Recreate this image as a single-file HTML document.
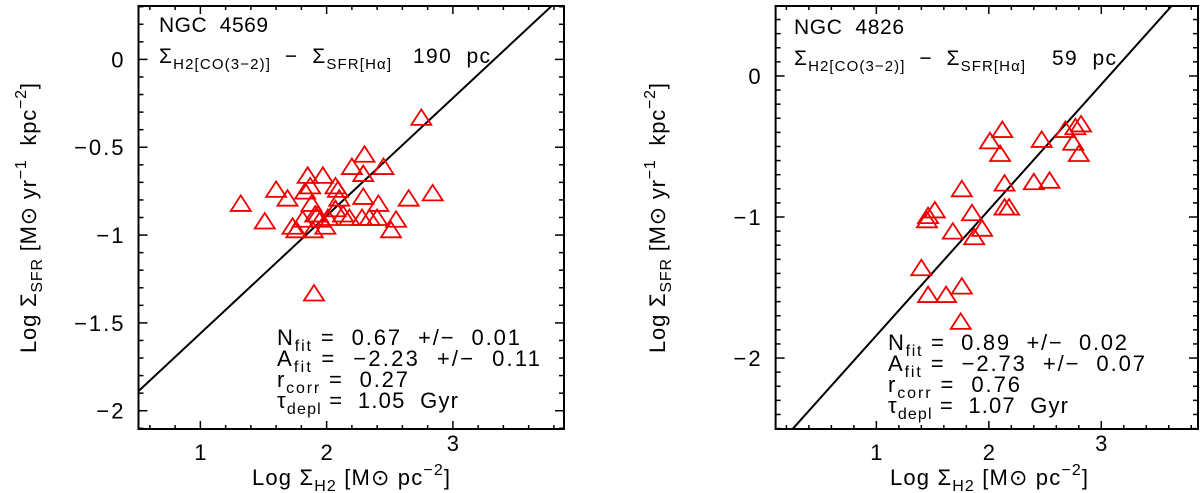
<!DOCTYPE html>
<html><head><meta charset="utf-8"><style>
body{margin:0;background:#fff;}
svg{display:block;font-family:"Liberation Sans",sans-serif;}
</style></head><body>
<svg id="c" width="1200" height="493" viewBox="0 0 1200 493"></svg>
<script>
const leftX=[1.32,1.51,1.60,1.69,1.76,1.85,1.87,1.83,1.88,1.81,1.89,1.97,1.91,1.93,1.99,2.07,2.09,2.10,2.07,2.13,2.18,2.20,2.30,2.29,2.29,2.28,2.34,2.41,2.40,2.45,2.51,2.55,2.65,2.84,2.75,1.90,2.01,1.73,1.95];
const leftY=[-0.82,-0.92,-0.74,-0.79,-0.97,-0.66,-0.72,-0.75,-0.82,-0.91,-0.97,-0.66,-0.88,-0.88,-0.95,-0.72,-0.74,-0.79,-0.85,-0.88,-0.90,-0.61,-0.54,-0.65,-0.78,-0.90,-0.90,-0.82,-0.90,-0.61,-0.97,-0.91,-0.79,-0.76,-0.33,-1.33,-0.90,-0.95,-0.91];
const rightX=[1.45,1.46,1.52,1.68,1.76,1.85,1.87,1.94,1.40,1.46,1.62,1.76,1.75,2.01,2.12,2.10,2.14,2.14,2.18,2.40,2.54,2.47,2.68,2.77,2.82,2.75,2.80];
const rightY=[-1.02,-0.99,-0.95,-1.10,-0.80,-0.97,-1.14,-1.08,-1.36,-1.55,-1.55,-1.49,-1.74,-0.46,-0.38,-0.55,-0.76,-0.93,-0.93,-0.75,-0.74,-0.45,-0.38,-0.36,-0.34,-0.47,-0.55];
const leftFit=[0.67,-2.23];
const rightFit=[0.89,-2.73];
const leftYTicks=[0,-0.5,-1,-1.5,-2];
const leftYLabels=["0","\u22120.5","\u22121","\u22121.5","\u22122"];
const rightYTicks=[0,-1,-2];
const rightYLabels=["0","\u22121","\u22122"];
const xTicks=[1,2,3];
const xLabels=["1","2","3"];

const svg=document.getElementById('c');
const NS='http://www.w3.org/2000/svg';
function mk(tag,attrs,parent){const e=document.createElementNS(NS,tag);for(const k in attrs)e.setAttribute(k,attrs[k]);(parent||svg).appendChild(e);return e;}
const S='\u00a0';

function panel(o){
  const g=mk('g',{});
  
  
  const sx=v=>o.px0+(v-o.x0)*(o.px1-o.px0)/(o.x1-o.x0);
  const sy=v=>o.py0+(v-o.y0)*(o.py1-o.py0)/(o.y1-o.y0);
  const L=o.px0,R=o.px1,T=o.py1,B=o.py0;
  const tg=mk('g',{stroke:'#000','stroke-width':1.5},g);
  
  
  for(let i=Math.ceil(o.x0*5);i<=Math.floor(o.x1*5);i++){
    const v=i/5,x=sx(v),maj=Math.abs(v-Math.round(v))<1e-6,len=maj?8:4;
    mk('line',{x1:x,x2:x,y1:B,y2:B-len},tg);mk('line',{x1:x,x2:x,y1:T,y2:T+len},tg);
  }
  for(let i=Math.ceil(o.y0*10);i<=Math.floor(o.y1*10);i++){
    const v=i/10,y=sy(v),maj=Math.abs(v*o.ymaj-Math.round(v*o.ymaj))<1e-6,len=maj?9:5;
    mk('line',{x1:L,x2:L+len,y1:y,y2:y},tg);mk('line',{x1:R,x2:R-len,y1:y,y2:y},tg);
  }
  o.yt.forEach((v,i)=>{const t=mk('text',{x:L-13,y:sy(v)+8,'text-anchor':'end','font-size':22,'letter-spacing':2},g);t.textContent=o.yl[i];
    });
  xTicks.forEach((v,i)=>{const t=mk('text',{x:sx(v),y:v===3?451:460,'text-anchor':'middle','font-size':22},g);t.textContent=xLabels[i];
    });
  const clip='clip'+o.name;
  const cp=mk('clipPath',{id:clip},g);mk('rect',{x:L,y:T,width:R-L,height:B-T},cp);
  const fl=mk('line',{x1:sx(o.x0),y1:sy(o.fit[1]+o.fit[0]*o.x0),x2:sx(o.x1),y2:sy(o.fit[1]+o.fit[0]*o.x1),stroke:'#000','stroke-width':2,'clip-path':'url(#'+clip+')'},g);
  
  o.xs.forEach((xv,i)=>{const x=sx(xv),y=sy(o.ys[i]);
    const p=mk('polygon',{points:`${x-10},${y+7.5} ${x+10},${y+7.5} ${x},${y-8}`,fill:'none',stroke:'#e00','stroke-width':1.8},g);
    });
  const fr=mk('rect',{x:L,y:T,width:R-L,height:B-T,fill:'none',stroke:'#000','stroke-width':2},g);
  
  const a=mk('g',{'font-size':21},g);
  const tt=mk('text',{x:o.tx,y:o.ty,textLength:o.titleW,lengthAdjust:'spacing'},a);tt.textContent='NGC'+S+S+o.title;
  const s=mk('text',{x:o.tx,y:o.ty+31,textLength:o.sigW,lengthAdjust:'spacing'},a);
  s.innerHTML=`Σ<tspan font-size="15" dy="6">H2[CO(3−2)]</tspan><tspan dy="-6">${S}${S}−${S}${S}Σ</tspan><tspan font-size="15" dy="6">SFR[Hα]</tspan>`;
  const r=mk('text',{x:o.resX,y:o.ty+31,textLength:o.resW,lengthAdjust:'spacing'},a);r.textContent=o.res+S+S+'pc';
  const st=o.stats;
  const labs=[['N','fit',S+'='+S+S+st[0]],['A','fit',S+'='+S+S+st[1]],['r','corr',S+'='+S+S+st[2]],['τ','depl',S+'='+S+S+st[3]]];
  labs.forEach((l,i)=>{const t=mk('text',{x:o.sx,y:o.sy+i*21,'font-size':22,textLength:o.sW[i],lengthAdjust:'spacing'},a);
    t.innerHTML=`${l[0]}<tspan font-size="16" dy="6">${l[1]}</tspan><tspan dy="-6">${l[2]}</tspan>`;});
  const yt=mk('text',{x:0,y:0,'font-size':22,'text-anchor':'middle',transform:`translate(${o.ytx},218) rotate(-90)`,textLength:270,lengthAdjust:'spacing'},g);
  
  yt.innerHTML=`Log${S}Σ<tspan font-size="16" dy="6">SFR</tspan><tspan dy="-6">${S}[M⊙${S}yr</tspan><tspan font-size="16" dy="-10">−1</tspan><tspan dy="10">${S}${S}kpc</tspan><tspan font-size="16" dy="-10">−2</tspan><tspan dy="10">]</tspan>`;
  const xt=mk('text',{x:o.xtx,y:485,'font-size':22,'text-anchor':'middle',textLength:198,lengthAdjust:'spacing'},g);
  
  xt.innerHTML=`Log${S}Σ<tspan font-size="16" dy="6">H2</tspan><tspan dy="-6">${S}[M⊙${S}pc</tspan><tspan font-size="16" dy="-10">−2</tspan><tspan dy="10">]</tspan>`;
}
panel({name:'panel-ngc4569',px0:138.5,px1:564,x0:0.51,x1:3.88,py0:429,py1:6,y0:-2.104,y1:0.304,ymaj:2,
  xs:leftX,ys:leftY,fit:leftFit,yt:leftYTicks,yl:leftYLabels,title:'4569',titleW:109,sigW:232,res:'190',resX:413,resW:77,
  tx:159,ty:32,sx:277,sy:345,sW:[243,263,131,181],stats:['0.67'+S+S+'+/−'+S+S+'0.01','−2.23'+S+S+'+/−'+S+S+'0.11','0.27','1.05'+S+S+'Gyr'],ytx:36,xtx:351});
panel({name:'panel-ngc4826',px0:775.6,px1:1198,x0:0.104,x1:3.86,py0:429,py1:6,y0:-2.503,y1:0.496,ymaj:1,
  xs:rightX,ys:rightY,fit:rightFit,yt:rightYTicks,yl:rightYLabels,title:'4826',titleW:110,sigW:231,res:'59',resX:1052,resW:64,
  tx:794,ty:34,sx:888,sy:350,sW:[239,257,132,180],stats:['0.89'+S+S+'+/−'+S+S+'0.02','−2.73'+S+S+'+/−'+S+S+'0.07','0.76','1.07'+S+S+'Gyr'],ytx:665,xtx:989});
</script>
</body></html>
